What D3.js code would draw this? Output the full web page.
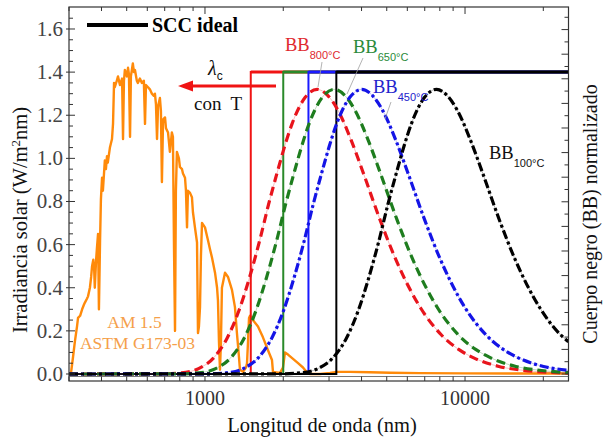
<!DOCTYPE html>
<html>
<head>
<meta charset="utf-8">
<script src="https://cdn.jsdelivr.net/npm/d3@7"></script>
<style>
  body { margin: 0; background: #fff; }
  svg text { font-family: "Liberation Serif", "Times New Roman", serif; }
</style>
</head>
<body>
<div id="chart"></div>
<script>
// AM 1.5 spectrum: [wavelength nm, W/m2nm]
var am15 = [
  [300,0],[305,0],[311,0.08],[316,0.15],[322,0.22],[325,0.26],[331,0.27],[337,0.30],[342,0.32],[345,0.33],
  [352,0.35],[355,0.36],[361,0.40],[365,0.45],[368,0.50],[372,0.53],[375,0.48],[377,0.40],[381,0.52],[384,0.58],
  [388,0.65],[391,0.30],[395,0.62],[398,0.81],[402,0.91],[405,0.85],[409,0.93],[412,0.99],[416,0.95],[420,1.01],
  [423,0.98],[431,1.05],[439,1.09],[443,1.16],[447,1.35],[450,1.33],[458,1.36],[463,1.38],[471,1.34],[480,1.37],
  [484,1.09],[488,1.36],[492,1.41],[501,1.38],[506,1.42],[510,1.39],[515,1.10],[519,1.38],[528,1.44],[533,1.40],
  [538,1.41],[547,1.36],[552,1.35],[562,1.37],[572,1.35],[582,1.36],[588,1.16],[593,1.34],[604,1.33],[614,1.32],
  [625,1.30],[636,1.29],[642,1.30],[648,1.25],[654,1.09],[660,1.24],[671,1.28],[677,1.22],[683,0.89],[690,1.18],
  [702,1.19],[708,1.14],[721,1.12],[733,1.03],[746,1.12],[753,1.10],[760,0.60],[767,0.20],[773,0.85],[780,1.03],
  [794,1.00],[801,0.96],[816,0.95],[823,0.93],[838,0.91],[845,0.85],[853,0.68],[860,0.85],[876,0.84],[891,0.82],
  [899,0.75],[915,0.68],[932,0.61],[940,0.19],[948,0.22],[957,0.31],[965,0.55],[974,0.70],[1000,0.68],[1027,0.62],
  [1045,0.58],[1064,0.54],[1093,0.47],[1113,0.40],[1122,0.34],[1132,0.15],[1142,0.02],[1152,0.15],[1162,0.40],[1194,0.47],
  [1226,0.45],[1270,0.39],[1304,0.31],[1327,0.19],[1351,0.08],[1363,0.02],[1400,0.01],[1438,0.03],[1451,0.05],[1464,0.15],
  [1477,0.26],[1490,0.27],[1530,0.25],[1599,0.22],[1671,0.17],[1747,0.11],[1810,0.065],[1826,0.01],[1943,0.005],[1995,0.03],
  [2031,0.10],[2086,0.09],[2181,0.07],[2280,0.05],[2382,0.03],[2456,0.01],[2535,0],[2770,0],[3025,0.005],[3218,0.01],
  [3613,0.01],[4310,0.008],[5150,0.006],[6700,0.004],[10000,0.003],[25000,0.002]
];

// black-body curves (normalised)
var bb800 = [
  [300,0],[675,0.0005],[810,0.005],[945,0.025],[1080,0.075],[1215,0.165],[1350,0.293],[1485,0.449],[1620,0.615],
  [1755,0.785],[1890,0.929],[2025,1.056],[2160,1.159],[2430,1.283],[2700,1.32],[2970,1.291],[3240,1.225],[3645,1.086],
  [4050,0.937],[4725,0.711],[5400,0.535],[6750,0.306],[8100,0.182],[9450,0.114],[10800,0.075],[13500,0.035],
  [16200,0.019],[18900,0.011],[21600,0.007],[25000,0.004]
];
var bb650 = [
  [300,0],[785,0.0005],[942,0.005],[1099,0.025],[1256,0.075],[1413,0.165],[1570,0.293],[1726,0.449],[1883,0.615],
  [2040,0.785],[2197,0.929],[2354,1.056],[2511,1.159],[2825,1.283],[3139,1.32],[3453,1.291],[3767,1.225],[4238,1.086],
  [4709,0.937],[5493,0.711],[6278,0.535],[7848,0.306],[9417,0.182],[10987,0.114],[12556,0.075],[15695,0.035],
  [18834,0.019],[21973,0.011],[25000,0.007]
];
var bb450 = [
  [300,0],[1002,0.0005],[1202,0.005],[1403,0.025],[1603,0.075],[1804,0.165],[2004,0.293],[2204,0.449],[2405,0.615],
  [2605,0.785],[2806,0.929],[3006,1.056],[3206,1.159],[3607,1.283],[4008,1.32],[4409,1.291],[4810,1.225],[5411,1.086],
  [6012,0.937],[7014,0.711],[8016,0.535],[10020,0.306],[12024,0.182],[14028,0.114],[16032,0.075],[20040,0.035],
  [25000,0.017]
];
var bb100 = [
  [300,0],[1942,0.0005],[2330,0.005],[2718,0.025],[3106,0.075],[3495,0.165],[3883,0.293],[4271,0.449],[4660,0.615],
  [5048,0.785],[5436,0.929],[5825,1.056],[6213,1.159],[6989,1.283],[7766,1.32],[8543,1.291],[9319,1.225],[10484,1.086],
  [11649,0.937],[13591,0.711],[15532,0.535],[19415,0.306],[23298,0.182],[25000,0.15]
];

// ideal selective surface steps (cut-off wavelengths)
var cutoffs = [1500, 2000, 2500, 3200];
var stepLevel = 1.4;
var stepColors = ["#f01414", "#2a8a2a", "#1a1aff", "#000000"];

var yTicks = [0, 0.2, 0.4, 0.6, 0.8, 1.0, 1.2, 1.4, 1.6];
var xTickLabels = [1000, 10000];

var W = 604, H = 441;
var margin = {top: 7, right: 35.5, bottom: 60, left: 69};

var svg = d3.select("#chart").append("svg").attr("width", W).attr("height", H);

var x = d3.scaleLog().domain([300, 25000]).range([margin.left, W - margin.right]);
var y = d3.scaleLinear().domain([-0.0325, 1.702]).range([H - margin.bottom, margin.top]);

var plot = svg.append("g");
svg.append("defs").append("clipPath").attr("id", "clip")
  .append("rect").attr("x", margin.left).attr("y", margin.top)
  .attr("width", W - margin.left - margin.right).attr("height", H - margin.top - margin.bottom);
plot.attr("clip-path", "url(#clip)");

// orange AM1.5
var lineLin = d3.line().x(d => x(d[0])).y(d => y(d[1]));
plot.append("path").datum(am15).attr("d", lineLin)
  .attr("fill", "none").attr("stroke", "#ff8a0a").attr("stroke-width", 2.4).attr("stroke-linejoin", "round");

// step functions
cutoffs.forEach((c, i) => {
  var pts = [[300, 0], [c, 0], [c, stepLevel], [25000, stepLevel]];
  plot.append("path").datum(pts).attr("d", lineLin)
    .attr("fill", "none").attr("stroke", stepColors[i]).attr("stroke-width", 2);
  plot.append("line")
    .attr("x1", x(c)).attr("x2", x(25000)).attr("y1", y(stepLevel)).attr("y2", y(stepLevel))
    .attr("stroke", stepColors[i]).attr("stroke-width", 3);
});

// black-body curves
var lineSmooth = d3.line().x(d => x(d[0])).y(d => y(d[1])).curve(d3.curveMonotoneX);
var bbSeries = [
  {data: bb800, color: "#e8141c", dash: "9,5"},
  {data: bb650, color: "#1e7d1e", dash: "9,5"},
  {data: bb450, color: "#1414e6", dash: "9,3,3,3"},
  {data: bb100, color: "#000000", dash: "9,3,3,3"}
];
bbSeries.forEach(s => {
  plot.append("path").datum(s.data).attr("d", lineSmooth)
    .attr("fill", "none").attr("stroke", s.color).attr("stroke-width", 0.8).attr("opacity", 0.35);
  plot.append("path").datum(s.data).attr("d", lineSmooth)
    .attr("fill", "none").attr("stroke", s.color).attr("stroke-width", 3.2)
    .attr("stroke-dasharray", s.dash);
});

// frame + ticks
var x0 = margin.left, x1 = W - margin.right, y0 = margin.top, y1 = H - margin.bottom;
svg.append("rect").attr("x", x0).attr("y", y0).attr("width", x1 - x0).attr("height", y1 - y0)
  .attr("fill", "none").attr("stroke", "#333").attr("stroke-width", 1.2);
svg.append("line").attr("x1", x0).attr("x2", x1).attr("y1", y1 - 4.5).attr("y2", y1 - 4.5)
  .attr("stroke", "#555").attr("stroke-width", 0.8);

var xt = x.ticks().filter(t => t >= 300 && t <= 25000);
var ticks = svg.append("g").attr("stroke", "#333").attr("stroke-width", 1);
xt.forEach(t => {
  ticks.append("line").attr("x1", x(t)).attr("x2", x(t)).attr("y1", y1).attr("y2", y1 - 4.5);
  var len = xTickLabels.includes(t) ? 7 : 4;
  ticks.append("line").attr("x1", x(t)).attr("x2", x(t)).attr("y1", y0).attr("y2", y0 + len);
});
d3.range(0, 34).map(i => i * 0.05).forEach(v => {
  var major = Math.abs(v * 5 - Math.round(v * 5)) < 1e-6;
  ticks.append("line").attr("x1", major ? x0 - 3 : x0).attr("x2", x0 + (major ? 6 : 4))
    .attr("y1", y(v)).attr("y2", y(v));
});
// right axis (normalised black body)
d3.range(0, 30).forEach(i => {
  var yy = y(0) - i * 12.3;
  if (yy < y0) return;
  var major = i % 2 === 0;
  ticks.append("line").attr("x1", x1 - (major ? 7 : 4)).attr("x2", x1).attr("y1", yy).attr("y2", yy);
});

svg.selectAll(".xl").data(xTickLabels).enter().append("text")
  .attr("x", d => x(d)).attr("y", 405).attr("text-anchor", "middle")
  .attr("font-size", 20).attr("fill", "#333").text(d => d);
svg.selectAll(".yl").data(yTicks).enter().append("text")
  .attr("x", 63).attr("y", d => y(d) + 7).attr("text-anchor", "end")
  .attr("font-size", 21).attr("fill", "#444").text(d => d.toFixed(1));

// axis titles
svg.append("text").attr("x", 322).attr("y", 432).attr("text-anchor", "middle")
  .attr("font-size", 20.5).attr("fill", "#111").text("Longitud de onda (nm)");
var yl = svg.append("text").attr("transform", "translate(27,220) rotate(-90)")
  .attr("text-anchor", "middle").attr("font-size", 20.5).attr("fill", "#111");
yl.append("tspan").text("Irradiancia solar (W/m");
yl.append("tspan").attr("font-size", 13).attr("dy", -7).text("2");
yl.append("tspan").attr("dy", 7).text("nm)");
svg.append("text").attr("transform", "translate(597,214) rotate(-90)")
  .attr("text-anchor", "middle").attr("font-size", 20).attr("fill", "#111")
  .text("Cuerpo negro (BB) normalizado");

// legend
svg.append("line").attr("x1", 87).attr("x2", 148).attr("y1", 25).attr("y2", 25)
  .attr("stroke", "#000").attr("stroke-width", 4);
svg.append("text").attr("x", 152).attr("y", 32).attr("font-size", 20).attr("font-weight", "bold")
  .attr("fill", "#000").text("SCC ideal");

// arrow lambda_c con T
svg.append("line").attr("x1", 190).attr("x2", 276).attr("y1", 86).attr("y2", 86)
  .attr("stroke", "#f01414").attr("stroke-width", 3);
svg.append("path").attr("d", "M178,86 L193,80.5 L193,91.5 Z").attr("fill", "#f01414");
var lc = svg.append("text").attr("x", 208).attr("y", 75).attr("font-size", 20).attr("fill", "#111");
lc.append("tspan").attr("font-style", "italic").text("λ");
lc.append("tspan").attr("font-size", 12).attr("dy", 5).attr("font-family", "Liberation Sans, Arial, sans-serif").text("c");
svg.append("text").attr("x", 194).attr("y", 110).attr("font-size", 19).attr("fill", "#111")
  .attr("xml:space", "preserve").text("con  T");

// BB labels
var labels = [
  {t: "800°C", x: 285, y: 51, c: "#e0282e", p: [[322, 62], [318, 87]]},
  {t: "650°C", x: 353, y: 53, c: "#2a8a3a", p: [[363, 58], [347, 94]]},
  {t: "450°C", x: 373, y: 93, c: "#2222cc", p: [[391, 102], [385, 119]]},
  {t: "100°C", x: 489, y: 159, c: "#111", p: null}
];
labels.forEach(l => {
  if (l.p) svg.append("line").attr("x1", l.p[0][0]).attr("y1", l.p[0][1]).attr("x2", l.p[1][0]).attr("y2", l.p[1][1])
    .attr("stroke", "#a0a0a0").attr("stroke-width", 0.8);
  var t = svg.append("text").attr("x", l.x).attr("y", l.y).attr("font-size", 18.5).attr("fill", l.c);
  t.append("tspan").text("BB");
  t.append("tspan").attr("font-size", 11).attr("dy", 8)
    .attr("font-family", "Liberation Sans, Arial, sans-serif").text(l.t);
});

// AM 1.5 label
svg.append("text").attr("x", 134.5).attr("y", 328).attr("text-anchor", "middle")
  .attr("font-size", 17.5).attr("fill", "#f5a04a").text("AM 1.5");
svg.append("text").attr("x", 137.5).attr("y", 349).attr("text-anchor", "middle")
  .attr("font-size", 17.5).attr("fill", "#f5a04a").text("ASTM G173-03");
</script>
</body>
</html>
